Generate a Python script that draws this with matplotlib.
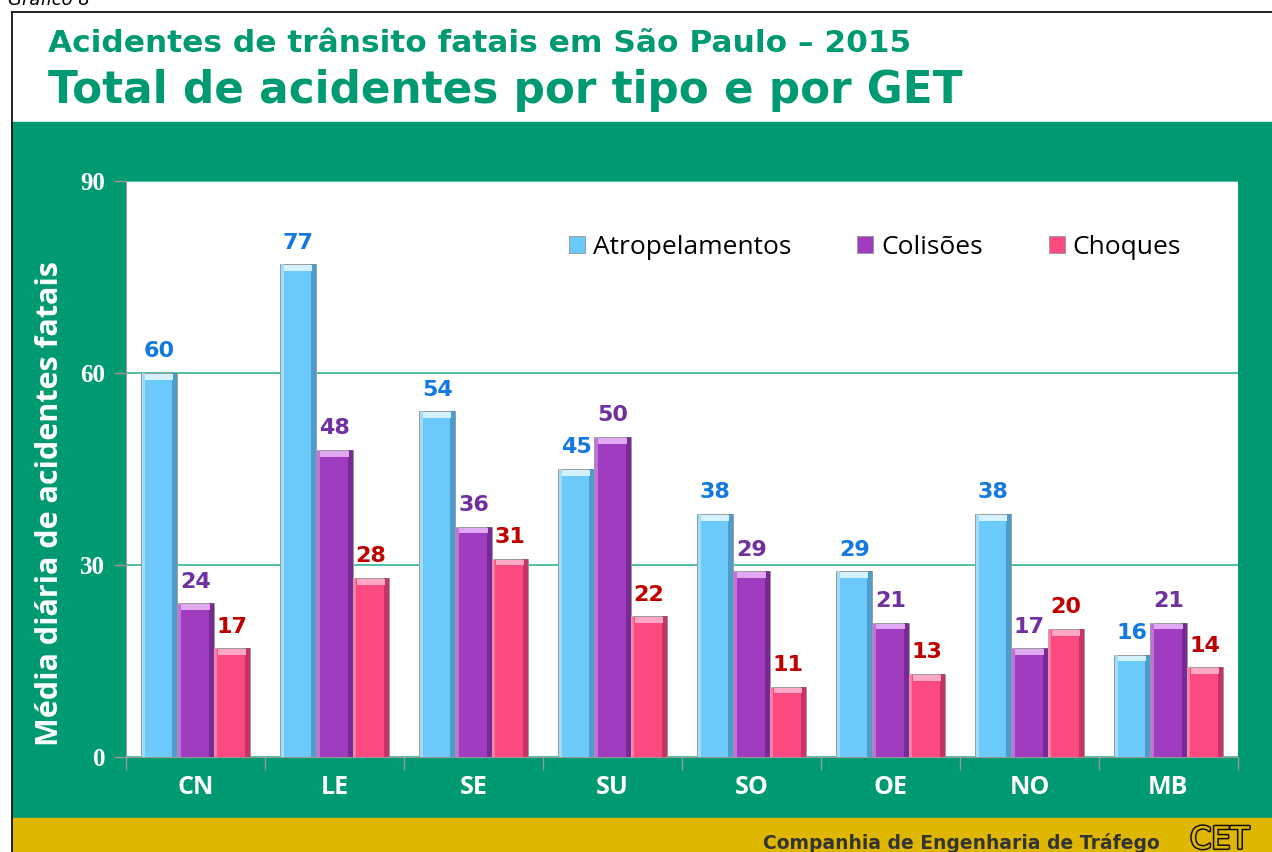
import numpy as np
import matplotlib.pyplot as plt
import matplotlib.patheffects as pe
from matplotlib.patches import Rectangle

categorias = ['CN', 'LE', 'SE', 'SU', 'SO', 'OE', 'NO', 'MB']
atropelamentos = [60, 77, 54, 45, 38, 29, 38, 16]
colisoes = [24, 48, 36, 50, 29, 21, 17, 21]
choques = [17, 28, 31, 22, 11, 13, 20, 14]
series = ['Atropelamentos', 'Colisões', 'Choques']

cor_barra = ['#6cc9fb', '#a03cc0', '#fc4a80']
cor_escura = ['#3a7fab', '#5e1f78', '#a32452']
cor_clara = ['#d4f1ff', '#e0a8f0', '#ffa8c6']
cor_rotulo = ['#1479e0', '#7030a0', '#c00000']
verde = '#009a72'

fig = plt.figure(figsize=(12.72, 8.52), dpi=100)

# fundo verde e faixa amarela
fig.patches.append(Rectangle((12/1272, 1-818/852), 1, (818-122)/852,
                             transform=fig.transFigure, color=verde, zorder=-2))
fig.patches.append(Rectangle((12/1272, 0), 1, 34/852,
                             transform=fig.transFigure, color='#e0b700', zorder=-2))
fig.add_artist(plt.Line2D([12/1272, 12/1272], [0, 1-12/852], color='black', lw=1.2,
                          transform=fig.transFigure))
fig.add_artist(plt.Line2D([12/1272, 1], [1-12/852, 1-12/852], color='black', lw=1.2,
                          transform=fig.transFigure))

fig.text(8/1272, 1.0, 'Gráfico 8', fontsize=13, style='italic', va='center', ha='left')
fig.text(48/1272, 1-43/852, 'Acidentes de trânsito fatais em São Paulo – 2015',
         fontsize=22.5, fontweight='bold', color=verde, va='center', ha='left')
fig.text(48/1272, 1-90/852, 'Total de acidentes por tipo e por GET',
         fontsize=31.5, fontweight='bold', color=verde, va='center', ha='left')

ax = fig.add_axes([126/1272, 1-757/852, (1238-126)/1272, (757-181)/852])
ax.set_facecolor('white')

x = np.arange(len(categorias))
w = 0.26
valores = [atropelamentos, colisoes, choques]
handles = []
for i, vals in enumerate(valores):
    pos = x + (i - 1) * w
    vals = np.array(vals)
    h = ax.bar(pos, vals, w, color=cor_barra[i], edgecolor='#9a9a9a', lw=0.7,
               zorder=3, label=series[i])
    handles.append(h)
    # efeito de relevo
    ax.bar(pos + w * 0.43, vals, w * 0.14, color=cor_escura[i], alpha=0.6, zorder=4)
    ax.bar(pos - w * 0.45, vals, w * 0.08, color=cor_clara[i], alpha=0.5, zorder=4)
    ax.bar(pos, np.full(len(vals), 0.9), w * 0.78, bottom=vals - 1.05,
           color=cor_clara[i], zorder=5)
    for p, v in zip(pos, vals):
        ax.text(p, v + 1.8, str(v), ha='center', va='bottom', fontsize=16,
                fontweight='bold', color=cor_rotulo[i], zorder=6)

ax.set_xlim(-0.5, len(categorias) - 0.5)
ax.set_ylim(0, 90)
ax.set_yticks([0, 30, 60, 90])
ax.set_yticklabels(['0', '30', '60', '90'], fontfamily='Liberation Serif',
                   fontweight='bold', fontsize=18, color='white')
ax.yaxis.grid(True, color='#2fb88c', lw=1.2, zorder=1)
ax.set_axisbelow(True)

ax.set_xticks(x)
ax.set_xticklabels(categorias, fontfamily='Open Sans', fontsize=18,
                   fontweight='bold', color='white')
ax.tick_params(axis='x', which='major', length=0, pad=13)
ax.set_xticks(np.arange(-0.5, len(categorias)), minor=True)
ax.tick_params(axis='x', which='minor', length=9, color='#999999', width=1)
ax.tick_params(axis='y', length=9, color='#999999', width=1, pad=6)

for s in ['top', 'right']:
    ax.spines[s].set_visible(False)
for s in ['left', 'bottom']:
    ax.spines[s].set_color('#999999')

ax.set_ylabel('Média diária de acidentes fatais', fontfamily='Open Sans',
              fontweight='bold', fontsize=22, color='white')
ax.yaxis.set_label_coords(-0.055, 0.44)

leg = ax.legend(handles=handles, labels=series, loc='center right',
                bbox_to_anchor=(0.97, 0.885), ncol=3, frameon=False,
                prop={'family': 'Open Sans', 'size': 19},
                handlelength=0.6, handleheight=0.6, handletextpad=0.3,
                columnspacing=2.5)

fig.text(1160/1272, 1-843/852, 'Companhia de Engenharia de Tráfego', fontsize=13.5,
         fontweight='bold', color='#333333', ha='right', va='center')
fig.text(1190/1272, 1-840/852, 'CET', fontsize=22, color='#e0b700',
         ha='left', va='center',
         path_effects=[pe.withStroke(linewidth=2.2, foreground='#111111')])

fig.savefig('out.png', dpi=100)
